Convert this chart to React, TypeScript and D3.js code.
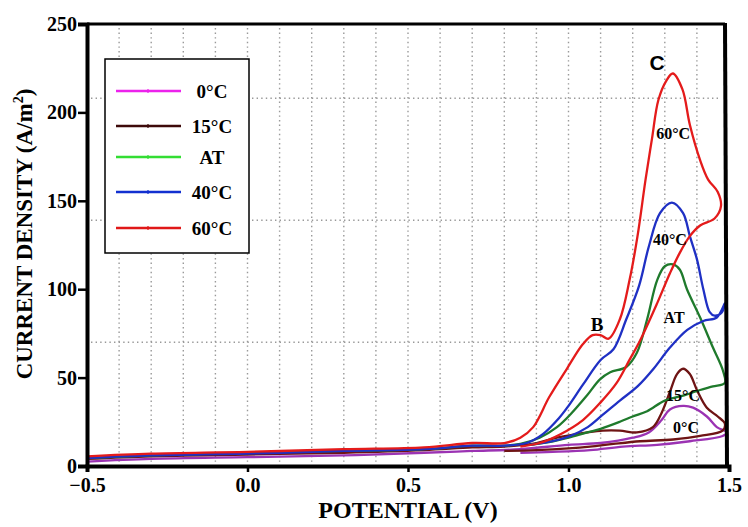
import React, { useEffect, useRef } from 'react';
import * as d3 from 'd3';

// potential (V) vs current density (A/m2), forward scan then reverse scan
const curve0C: [number, number][] = [
  [-0.5, 2.5], [-0.3, 4], [0, 5], [0.3, 6], [0.55, 7.5], [0.7, 8.5], [0.85, 9.5], [1.0, 12],
  [1.1, 13], [1.2, 16], [1.25, 19], [1.29, 26], [1.316, 32], [1.357, 34], [1.388, 33],
  [1.431, 28], [1.462, 22], [1.494, 19],
  [1.48, 17], [1.378, 14], [1.276, 12], [1.17, 11], [1.067, 9], [0.95, 8], [0.85, 7.5],
];
const curve15C: [number, number][] = [
  [-0.5, 4], [-0.3, 5.5], [0, 6.5], [0.3, 7.5], [0.55, 9], [0.7, 10.5], [0.8, 11], [0.9, 13],
  [0.964, 16], [1.06, 19], [1.107, 20], [1.16, 20], [1.213, 19], [1.263, 22], [1.29, 30],
  [1.316, 42], [1.338, 52], [1.357, 55], [1.378, 52], [1.4, 43], [1.431, 33], [1.465, 28], [1.487, 24],
  [1.48, 20], [1.41, 17], [1.326, 15], [1.223, 14], [1.14, 12.5], [1.067, 11], [1.0, 10], [0.9, 9], [0.8, 8.5],
];
const curveAT: [number, number][] = [
  [-0.5, 4.5], [-0.3, 6], [0, 7.5], [0.3, 8.5], [0.55, 9.5], [0.7, 11.5], [0.8, 11.5], [0.85, 12.5],
  [0.91, 16], [0.964, 22], [1.005, 29], [1.058, 40], [1.098, 49], [1.13, 53], [1.18, 56],
  [1.213, 64], [1.245, 83], [1.276, 105], [1.3, 113], [1.326, 114], [1.347, 111], [1.369, 100],
  [1.41, 84], [1.45, 67], [1.481, 54], [1.487, 47],
  [1.45, 45], [1.41, 43], [1.36, 40], [1.3, 37], [1.245, 31], [1.2, 28], [1.16, 25], [1.1, 21],
  [1.058, 19], [1.0, 16], [0.952, 14], [0.88, 12],
];
const curve40C: [number, number][] = [
  [-0.5, 4.5], [-0.3, 6], [0, 7], [0.3, 8.5], [0.55, 9.5], [0.7, 11.5], [0.8, 11.5], [0.87, 13],
  [0.92, 18], [0.97, 27], [1.0, 34], [1.045, 46], [1.1, 60], [1.14, 66], [1.18, 83], [1.22, 102],
  [1.25, 124], [1.285, 143], [1.322, 149], [1.357, 143], [1.378, 130], [1.4, 117], [1.42, 100],
  [1.44, 87], [1.455, 85], [1.478, 87], [1.487, 92],
  [1.462, 84], [1.42, 82], [1.37, 77], [1.316, 67], [1.265, 55], [1.215, 45], [1.16, 37],
  [1.107, 29], [1.06, 22], [1.005, 17], [0.95, 14], [0.88, 12],
];
const curve60C: [number, number][] = [
  [-0.5, 5.5], [-0.3, 7], [0, 8], [0.3, 9.5], [0.55, 10.5], [0.7, 13], [0.8, 13], [0.85, 16],
  [0.89, 22], [0.94, 39], [0.995, 55], [1.045, 69], [1.075, 74], [1.1, 74], [1.125, 72],
  [1.16, 83], [1.19, 105], [1.215, 130], [1.24, 162], [1.26, 185], [1.28, 207], [1.305, 218],
  [1.325, 222], [1.355, 213], [1.378, 193], [1.41, 173], [1.435, 162], [1.465, 155], [1.475, 147],
  [1.455, 140], [1.41, 136], [1.378, 130], [1.345, 120], [1.316, 109], [1.276, 92], [1.223, 71],
  [1.19, 60], [1.15, 47], [1.1, 36], [1.045, 26], [0.975, 18], [0.91, 13], [0.85, 11],
];

const seriesNames = ['0°C', '15°C', 'AT', '40°C', '60°C'];
const seriesData = [curve0C, curve15C, curveAT, curve40C, curve60C];

const xTicks = [-0.5, 0.0, 0.5, 1.0, 1.5];
const yTicks = [0, 50, 100, 150, 200, 250];
const gridX = [-0.4, -0.3, -0.2, -0.1, 0.0, 0.1, 0.2, 0.3, 0.4, 0.5, 0.6, 0.7, 0.8, 0.9, 1.0, 1.1, 1.2, 1.3, 1.4];
const gridY = [70, 139, 208];

const lineColors = ['#9b33b3', '#6e1414', '#1f7a2c', '#1f30c4', '#e41b1b'];
const legendColors = ['#ec22ec', '#3d0a0a', '#33dd33', '#1230d0', '#e01818'];

const serif = '"Liberation Serif", "Times New Roman", serif';

export default function App() {
  const svgRef = useRef<SVGSVGElement>(null);

  useEffect(() => {
    const svg = d3.select(svgRef.current);
    svg.selectAll('*').remove();

    const left = 87, right = 729, top = 24, bottom = 466;
    const x = d3.scaleLinear().domain([-0.5, 1.5]).range([left, right]);
    const y = d3.scaleLinear().domain([0, 250]).range([bottom, top]);

    // dotted grid from the scanned paper
    const grid = svg.append('g').attr('stroke', '#777').attr('stroke-width', 1.4)
      .attr('stroke-dasharray', '1.4 3.2').attr('opacity', 0.75);
    grid.selectAll('.gx').data(gridX).enter().append('line')
      .attr('x1', d => x(d)).attr('x2', d => x(d)).attr('y1', top + 4).attr('y2', bottom - 4);
    grid.selectAll('.gy').data(gridY).enter().append('line')
      .attr('x1', left + 4).attr('x2', right - 8).attr('y1', d => y(d)).attr('y2', d => y(d));

    // curves
    const line = d3.line<[number, number]>()
      .x(d => x(d[0])).y(d => y(d[1]))
      .curve(d3.curveCatmullRom.alpha(0.5));
    svg.append('g').selectAll('path').data(seriesData).enter().append('path')
      .attr('d', d => line(d))
      .attr('fill', 'none')
      .attr('stroke', (_, i) => lineColors[i])
      .attr('stroke-width', 2.3)
      .attr('stroke-linejoin', 'round');

    // frame
    svg.append('line').attr('x1', left).attr('x2', right - 4).attr('y1', top).attr('y2', top)
      .attr('stroke', '#000').attr('stroke-width', 3);
    svg.append('line').attr('x1', right - 4).attr('x2', right - 2).attr('y1', top - 1).attr('y2', bottom)
      .attr('stroke', '#000').attr('stroke-width', 4);

    // axes
    const yAxis = d3.axisLeft(y).tickValues(yTicks).tickSize(9).tickPadding(1).tickFormat(d3.format('d'));
    const gy = svg.append('g').attr('transform', `translate(${left},0)`).call(yAxis);
    const xAxis = d3.axisBottom(x).tickValues(xTicks).tickSize(6).tickPadding(6).tickFormat(d3.format('.1f'));
    const gx = svg.append('g').attr('transform', `translate(0,${bottom})`).call(xAxis);
    [gx, gy].forEach(g => {
      g.select('.domain').attr('stroke', '#000').attr('stroke-width', 4);
      g.selectAll('.tick line').attr('stroke', '#000').attr('stroke-width', 2.5);
      g.selectAll('.tick text').attr('fill', '#000')
        .style('font-family', serif).style('font-weight', 'bold').style('font-size', '20px');
    });
    gx.selectAll('.tick text').text(d => (d as number) < 0 ? '\u2212' + Math.abs(d as number).toFixed(1) : (d as number).toFixed(1));

    svg.append('text').attr('x', (left + right) / 2).attr('y', 518)
      .attr('text-anchor', 'middle').style('font-family', serif).style('font-weight', 'bold')
      .style('font-size', '24px').text('POTENTIAL (V)');
    const yt = svg.append('text').attr('transform', 'translate(32,234) rotate(-90)')
      .attr('text-anchor', 'middle').style('font-family', serif).style('font-weight', 'bold')
      .style('font-size', '23px');
    yt.append('tspan').text('CURRENT DENSITY (A/m');
    yt.append('tspan').attr('dy', -9).style('font-size', '14px').text('2');
    yt.append('tspan').attr('dy', 9).text(')');

    // peak annotations
    const notes: [string, number, number, number, string][] = [
      ['C', 1.276, 228, 21, 'Liberation Sans, Arial, sans-serif'],
      ['60°C', 1.326, 188, 16, serif],
      ['40°C', 1.316, 128, 16, serif],
      ['AT', 1.329, 84, 16, serif],
      ['B', 1.089, 80, 19, serif],
      ['15°C', 1.357, 40, 16, serif],
      ['0°C', 1.366, 22, 16, serif],
    ];
    svg.append('g').selectAll('text').data(notes).enter().append('text')
      .attr('x', d => x(d[1])).attr('y', d => y(d[2]))
      .attr('text-anchor', 'middle').attr('dominant-baseline', 'central')
      .style('font-family', d => d[4]).style('font-weight', 'bold')
      .style('font-size', d => `${d[3]}px`).text(d => d[0]);

    // legend
    const lg = svg.append('g');
    lg.append('rect').attr('x', 105).attr('y', 59).attr('width', 144).attr('height', 194)
      .attr('fill', '#fff').attr('stroke', '#000').attr('stroke-width', 1.5);
    const rowY = [91, 126, 157, 192, 228];
    const rows = lg.selectAll('.row').data(seriesNames).enter().append('g')
      .attr('transform', (_, i) => `translate(0,${rowY[i]})`);
    rows.append('line').attr('x1', 116).attr('x2', 181).attr('y1', 0).attr('y2', 0)
      .attr('stroke', (_, i) => legendColors[i]).attr('stroke-width', 2.5);
    rows.append('line').attr('x1', 148).attr('x2', 148).attr('y1', -2).attr('y2', 2)
      .attr('stroke', (_, i) => legendColors[i]).attr('stroke-width', 1.2);
    rows.append('text').attr('x', 212).attr('y', 0).attr('text-anchor', 'middle')
      .attr('dominant-baseline', 'central').style('font-family', serif).style('font-weight', 'bold')
      .style('font-size', '19px').text(d => d);
  }, []);

  return (
    <svg ref={svgRef} width={748} height={527}
      style={{ position: 'absolute', left: 0, top: 0, background: '#fff' }} />
  );
}
